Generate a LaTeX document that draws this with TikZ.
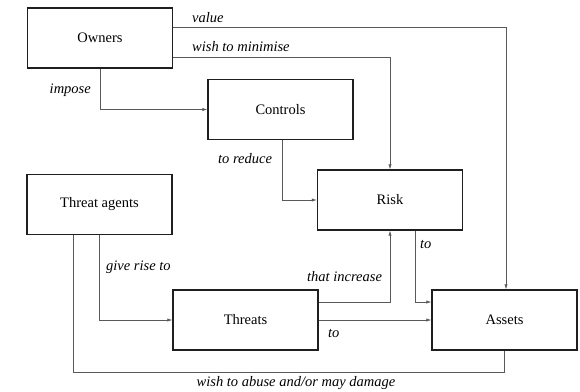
\documentclass[tikz,border=0pt]{standalone}
\usepackage{fontspec}
\setmainfont{Liberation Serif}
\usetikzlibrary{arrows.meta}
\begin{document}
\begin{tikzpicture}[x=1pt,y=-1pt,
  box/.style={draw=black!88,line width=1.3pt,minimum width=145pt,minimum height=60pt,font=\fontsize{14.5}{16}\selectfont,inner sep=0pt},
  conn/.style={draw=black!65,line width=0.6pt,-{Latex[length=5pt,width=3.2pt]}},
  plain/.style={draw=black!65,line width=0.6pt},
  lbl/.style={font=\fontsize{14.5}{16}\selectfont\itshape,inner sep=0pt,text height=9.5pt,text depth=3pt}]
\useasboundingbox (0,0) rectangle (580,391);
\node[box] (own) at (100,38) {Owners};
\node[box] (ctl) at (280.5,109.5) {Controls};
\node[box] (risk) at (390,200) {Risk};
\node[box] (ta) at (99.5,204.5) {Threat agents};
\node[box] (thr) at (245.5,320) {Threats};
\node[box] (ast) at (504.5,320) {Assets};
% value
\coordinate (v1) at (own.east |- 0,27);
\coordinate (v2) at (506,27);
\draw[conn] (v1) -- (v2) -- (v2 |- ast.north);
% wish to minimise
\coordinate (m1) at (own.east |- 0,57);
\draw[conn] (m1) -| (risk.north);
% impose
\draw[conn] (own.south) |- (ctl.west);
% to reduce
\coordinate (r1) at (282,0);
\draw[conn] (r1 |- ctl.south) |- (risk.west);
% give rise to
\draw[conn] (ta.south) |- (thr.west);
% that increase
\coordinate (i1) at (thr.east |- 0,302);
\draw[conn] (i1) -| (risk.south);
% to (risk -> assets)
\coordinate (t1) at (415,0);
\coordinate (t2) at (ast.west |- 0,302);
\draw[conn] (t1 |- risk.south) |- (t2);
% threats -> assets
\draw[conn] (thr.east) -- (ast.west);
% wish to abuse
\coordinate (a1) at (73,0);
\coordinate (a2) at (504,372);
\draw[plain] (a1 |- ta.south) |- (a2) -- (a2 |- ast.south);
% labels
\node[lbl,anchor=west] (lv) at (192,19) {value};
\node[lbl,anchor=west] (lm) at (192,48) {wish to minimise};
\node[lbl,anchor=east] (li) at (91,90) {impose};
\node[lbl,anchor=west] (lr) at (218,160) {to reduce};
\node[lbl,anchor=west] (lg) at (106,267) {give rise to};
\node[lbl,anchor=west] (lti) at (307,278) {that increase};
\node[lbl,anchor=west] (lt1) at (420,245) {to};
\node[lbl,anchor=west] (lt2) at (328,334) {to};
\node[lbl] (la) at (296,383) {wish to abuse and/or may damage};
\end{tikzpicture}
\end{document}
